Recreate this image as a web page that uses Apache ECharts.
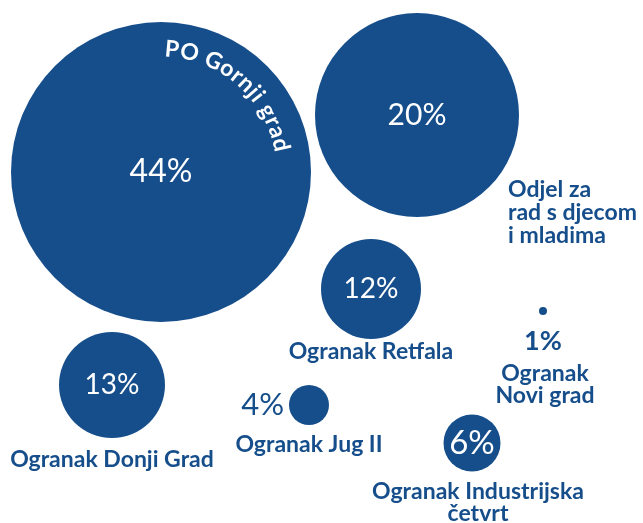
<!DOCTYPE html>
<html>
<head>
<meta charset="utf-8">
<script src="https://cdn.jsdelivr.net/npm/echarts@6/dist/echarts.min.js"></script>
<style>
  html, body { margin: 0; padding: 0; background: #fff; }
  #chart { width: 643px; height: 523px; }
</style>
</head>
<body>
<div id="chart"></div>
<script>
// ogranci / odjeli
const names = ['PO Gornji grad', 'Odjel za\nrad s djecom\ni mladima', 'Ogranak Retfala', 'Ogranak Donji Grad', 'Ogranak Jug II', 'Ogranak Industrijska\nčetvrt', 'Ogranak\nNovi grad'];
// udio (%)
const shares = [44, 20, 12, 13, 4, 6, 1];
// raspored mjehurica (jedinice osi)
const bubbleX = [161, 417, 371, 112, 309, 472, 543];
const bubbleY = [172, 115, 289, 385, 405, 443, 311];
const bubbleSize = [300, 204, 100, 106, 40, 57, 8];

const BLUE = '#164e8b';
const FONT = 'Lato';

const chart = echarts.init(document.getElementById('chart'));

// postotak: unutra bijelo, osim malih
const pctLabel = [
  { fontSize: 32 },
  { fontSize: 30 },
  { fontSize: 28 },
  { fontSize: 28 },
  { position: 'left', distance: 5, color: BLUE, fontSize: 31 },
  { fontSize: 33 },
  { position: 'bottom', distance: 13, color: BLUE, fontSize: 27, fontWeight: 'bold' }
];

// nazivi ispod / pokraj mjehurica
const nameLabel = [
  { show: false },
  { position: [193, 165], align: 'left', verticalAlign: 'top', lineHeight: 23 },
  { position: 'bottom', distance: 2 },
  { position: 'bottom', distance: 11 },
  { position: 'bottom', distance: 9 },
  { position: 'bottom', distance: 9, offset: [6, 0] },
  { position: 'bottom', distance: 48, offset: [2, 0] }
];

const points = names.map((n, i) => [bubbleX[i], bubbleY[i], shares[i]]);

chart.setOption({
  animation: false,
  grid: { left: 0, right: 0, top: 0, bottom: 0 },
  xAxis: { type: 'value', min: 0, max: 643, show: false },
  yAxis: { type: 'value', min: 0, max: 523, inverse: true, show: false },
  series: [
    {
      type: 'scatter',
      symbol: 'circle',
      symbolSize: (val, p) => bubbleSize[p.dataIndex],
      itemStyle: { color: BLUE, opacity: 1 },
      data: points.map((v, i) => ({
        name: names[i],
        value: v,
        label: Object.assign({
          show: true,
          position: 'inside',
          color: '#fff',
          fontFamily: FONT,
          formatter: shares[i] + '%'
        }, pctLabel[i])
      })),
      z: 2
    },
    {
      type: 'scatter',
      symbol: 'circle',
      symbolSize: (val, p) => bubbleSize[p.dataIndex],
      itemStyle: { color: 'rgba(0,0,0,0)', opacity: 1 },
      silent: true,
      data: points.map((v, i) => ({
        name: names[i],
        value: v,
        label: Object.assign({
          show: true,
          formatter: '{b}',
          color: BLUE,
          fontFamily: FONT,
          fontWeight: 'bold',
          fontSize: 23,
          lineHeight: 22,
          align: 'center'
        }, nameLabel[i])
      })),
      z: 3
    }
  ]
});

// zakrivljeni naziv unutar najveceg mjehurica
const center = chart.convertToPixel({ gridIndex: 0 }, [bubbleX[0], bubbleY[0]]);
const arcR = bubbleSize[0] / 2 - 27;
const arcFont = 'bold 23px ' + FONT;
const spacing = 1.2;
const ctx = document.createElement('canvas').getContext('2d');
ctx.font = arcFont;
const chars = names[0].split('');
const widths = chars.map(c => ctx.measureText(c).width + spacing);
const total = widths.reduce((a, b) => a + b, 0);
const midAngle = -49 * Math.PI / 180;
let acc = midAngle - total / 2 / arcR;
const arcText = chars.map((c, i) => {
  const a = acc + widths[i] / 2 / arcR;
  acc += widths[i] / arcR;
  return {
    type: 'text',
    x: center[0] + arcR * Math.cos(a),
    y: center[1] + arcR * Math.sin(a),
    rotation: -(a + Math.PI / 2),
    style: { text: c, fill: '#fff', font: arcFont, align: 'center', verticalAlign: 'middle' },
    z: 10
  };
});
chart.setOption({ graphic: arcText });
</script>
</body>
</html>
